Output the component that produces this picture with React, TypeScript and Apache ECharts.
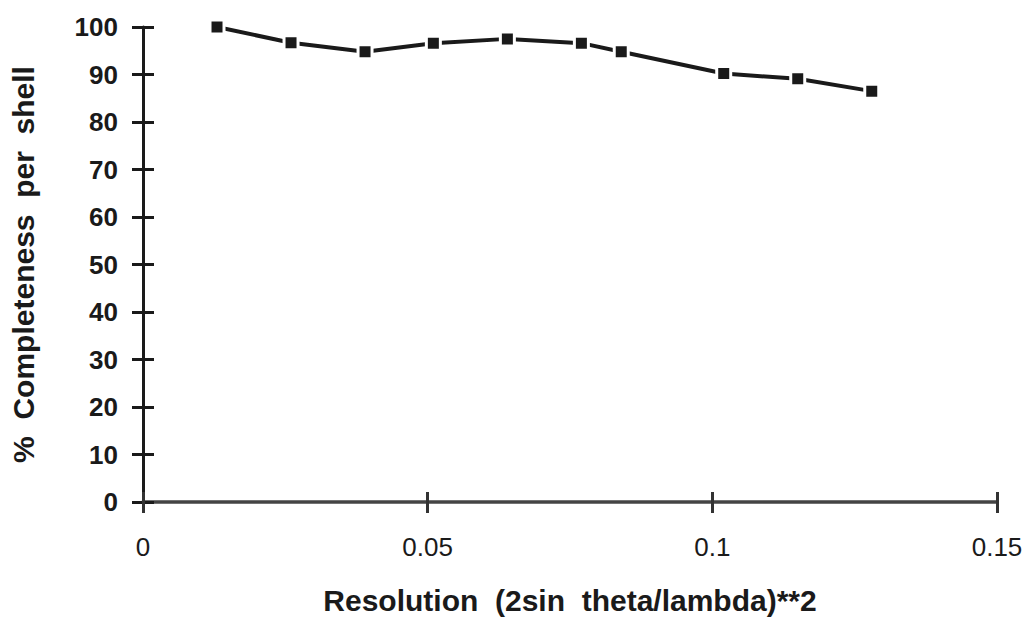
import React, { useEffect, useRef } from "react";
import * as echarts from "echarts";

const resolution = [0.013, 0.026, 0.039, 0.051, 0.064, 0.077, 0.084, 0.102, 0.115, 0.128];
const completeness = [100, 96.7, 94.8, 96.6, 97.5, 96.6, 94.8, 90.2, 89.1, 86.5];
const xAxisTitle = "Resolution  (2sin  theta/lambda)**2";
const yAxisTitle = "%  Completeness  per  shell";
const xRange = { min: 0, max: 0.15, interval: 0.05 };
const yRange = { min: 0, max: 100, interval: 10 };

export default function App() {
  const ref = useRef<HTMLDivElement>(null);
  useEffect(() => {
    if (!ref.current) return;
    const chart = echarts.init(ref.current, undefined, { renderer: "svg" });
    const font = "'Liberation Sans', Arial, Helvetica, sans-serif";
    const xBase = {
      type: "value",
      ...xRange,
      splitLine: { show: false },
    };
    const yBase = {
      type: "value",
      ...yRange,
      splitLine: { show: false },
    };
    chart.setOption({
      animation: false,
      backgroundColor: "#ffffff",
      grid: { left: 143, right: 36, top: 27, bottom: 118, containLabel: false },
      xAxis: [
        {
          ...xBase,
          name: xAxisTitle,
          nameLocation: "middle",
          nameGap: 83,
          nameTextStyle: { fontFamily: font, fontSize: 30, fontWeight: "bold", color: "#1a1a1a" },
          axisLine: { show: true, lineStyle: { color: "#444444", width: 3.5 } },
          axisTick: { show: true, inside: false, length: 11, lineStyle: { color: "#333333", width: 3 } },
          axisLabel: {
            margin: 32,
            fontFamily: font,
            fontSize: 26,
            color: "#1a1a1a",
            formatter: (v: number) => String(+v.toFixed(2)),
          },
        },
        {
          ...xBase,
          position: "bottom",
          axisLine: { show: false },
          axisTick: { show: true, inside: true, length: 10, lineStyle: { color: "#333333", width: 3 } },
          axisLabel: { show: false },
        },
      ],
      yAxis: [
        {
          ...yBase,
          name: yAxisTitle,
          nameLocation: "middle",
          nameGap: 105,
          nameTextStyle: { fontFamily: font, fontSize: 30, fontWeight: "bold", color: "#1a1a1a" },
          axisLine: { show: true, lineStyle: { color: "#1a1a1a", width: 3 } },
          axisTick: { show: true, inside: false, length: 11, lineStyle: { color: "#1a1a1a", width: 3 } },
          axisLabel: {
            margin: 25,
            fontFamily: font,
            fontSize: 26,
            fontWeight: "bold",
            color: "#1a1a1a",
          },
        },
        {
          ...yBase,
          position: "left",
          axisLine: { show: false },
          axisTick: { show: true, inside: true, length: 11, lineStyle: { color: "#1a1a1a", width: 3 } },
          axisLabel: { show: false },
        },
      ],
      series: [
        {
          type: "line",
          xAxisIndex: 0,
          yAxisIndex: 0,
          data: resolution.map((x, i) => [x, completeness[i]]),
          symbol: "rect",
          symbolSize: 14,
          lineStyle: { color: "#1a1a1a", width: 4 },
          itemStyle: { color: "#1a1a1a", borderColor: "#ffffff", borderWidth: 3 },
          z: 5,
        },
      ],
    });
    return () => chart.dispose();
  }, []);
  return (
    <div
      ref={ref}
      style={{ position: "absolute", left: 0, top: 0, width: 1033, height: 620, background: "#ffffff" }}
    />
  );
}
